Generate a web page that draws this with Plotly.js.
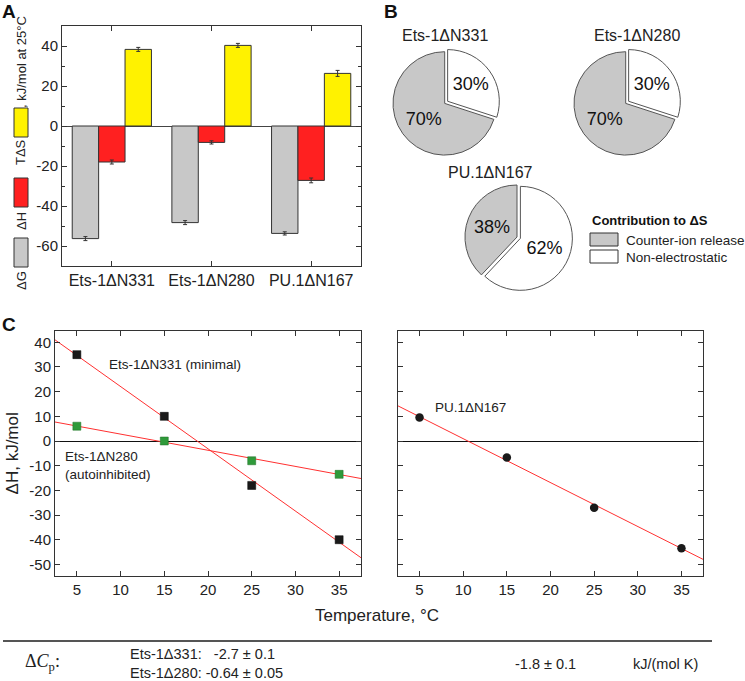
<!DOCTYPE html>
<html>
<head>
<meta charset="utf-8">
<script src="https://cdn.plot.ly/plotly-3.0.1.min.js"></script>
<style>html,body{margin:0;padding:0;background:#fff}#chart{width:745px;height:681px}</style>
</head>
<body>
<div id="chart"></div>
<script>
// ---------- Panel A data ----------
const proteins = ['Ets-1ΔN331', 'Ets-1ΔN280', 'PU.1ΔN167'];
const dG = [-56.3, -48.3, -53.7];
const dH = [-18.0, -8.2, -27.2];
const TdS = [38.3, 40.3, 26.3];
const dGErr = [1.0, 1.0, 0.8];
const dHErr = [1.0, 0.8, 1.2];
const TdSErr = [1.0, 1.0, 1.5];
const yTickValsA = [-60, -40, -20, 0, 20, 40];
const yTickTextA = ['-60', '-40', '-20', '0', '20', '40'];

// ---------- Panel B data ----------
const pieLabels = ['Non-electrostatic', 'Counter-ion release'];
const nonElectrostatic = [30, 30, 62];   // Ets-1ΔN331, Ets-1ΔN280, PU.1ΔN167
const counterIon = [70, 70, 38];

// ---------- Panel C data ----------
const temps = [5, 15, 25, 35];
const dH331 = [35.0, 10.0, -18.0, -40.0];
const dH331Err = [1.0, 1.0, 1.0, 1.5];
const dH280 = [6.0, 0.0, -8.0, -13.5];
const dH280Err = [1.0, 1.5, 1.0, 1.0];
const dH167 = [9.5, -6.7, -27.0, -43.5];
const dH167Err = [1.0, 1.0, 1.0, 1.0];
const fitT = [2.5, 37.5];
const fit331 = [41.0, -47.3];
const fit280 = [7.7, -15.2];
const fit167 = [14.3, -48.0];
const xTickValsC = [5, 10, 15, 20, 25, 30, 35];
const xTickTextC = ['5', '10', '15', '20', '25', '30', '35'];
const yTickValsC = [-50, -40, -30, -20, -10, 0, 10, 20, 30, 40];
const yTickTextC = ['-50', '-40', '-30', '-20', '-10', '0', '10', '20', '30', '40'];

// ---------- helpers ----------
const W = 745, H = 681;
const px = x => x / W;
const py = y => 1 - y / H;
const FONT = 'Liberation Sans, Arial, sans-serif';
const AX = '#333';

const barLine = {color: '#333', width: 1};
const errStyle = arr => ({type: 'data', array: arr, visible: true, color: '#333', thickness: 1, width: 2});

const traces = [
  {type: 'bar', name: 'ΔG', x: proteins, y: dG, marker: {color: '#c8c8c8', line: barLine}, error_y: errStyle(dGErr), xaxis: 'x', yaxis: 'y', showlegend: false, hoverinfo: 'skip'},
  {type: 'bar', name: 'ΔH', x: proteins, y: dH, marker: {color: '#ff2020', line: barLine}, error_y: errStyle(dHErr), xaxis: 'x', yaxis: 'y', showlegend: false, hoverinfo: 'skip'},
  {type: 'bar', name: 'TΔS', x: proteins, y: TdS, marker: {color: '#fff200', line: barLine}, error_y: errStyle(TdSErr), xaxis: 'x', yaxis: 'y', showlegend: false, hoverinfo: 'skip'}
];

function pieTrace(i, cx, cy, r, pull) {
  const half = r * (1 + pull);
  return {
    type: 'pie', values: [nonElectrostatic[i], counterIon[i]], labels: pieLabels, sort: false, direction: 'clockwise', rotation: 0,
    pull: [pull, 0], marker: {colors: ['#ffffff', '#c8c8c8'], line: {color: '#555', width: 1}},
    textinfo: 'percent', textposition: 'inside', insidetextorientation: 'horizontal',
    textfont: {family: FONT, size: 18, color: '#111'},
    domain: {x: [px(cx - half), px(cx + half)], y: [py(cy + half), py(cy - half)]},
    showlegend: false, hoverinfo: 'skip'
  };
}
traces.push(pieTrace(0, 444.7, 103.4, 51.7, 0.07));
traces.push(pieTrace(1, 625.7, 103.4, 51.7, 0.07));
traces.push(pieTrace(2, 517, 237, 52, 0.07));

const redLine = {color: '#ff3030', width: 1};
traces.push({type: 'scatter', mode: 'lines', x: fitT, y: fit331, line: redLine, xaxis: 'x2', yaxis: 'y2', showlegend: false, hoverinfo: 'skip'});
traces.push({type: 'scatter', mode: 'lines', x: fitT, y: fit280, line: redLine, xaxis: 'x2', yaxis: 'y2', showlegend: false, hoverinfo: 'skip'});
traces.push({type: 'scatter', mode: 'markers', x: temps, y: dH331, error_y: {type: 'data', array: dH331Err, color: '#222', thickness: 1, width: 0},
  marker: {symbol: 'square', size: 8, color: '#1a1a1a', line: {color: '#000', width: 0.5}}, xaxis: 'x2', yaxis: 'y2', showlegend: false, hoverinfo: 'skip'});
traces.push({type: 'scatter', mode: 'markers', x: temps, y: dH280, error_y: {type: 'data', array: dH280Err, color: '#2a8a2a', thickness: 1, width: 0},
  marker: {symbol: 'square', size: 8, color: '#2f9a3a', line: {color: '#1f6f25', width: 0.5}}, xaxis: 'x2', yaxis: 'y2', showlegend: false, hoverinfo: 'skip'});
traces.push({type: 'scatter', mode: 'lines', x: fitT, y: fit167, line: redLine, xaxis: 'x3', yaxis: 'y3', showlegend: false, hoverinfo: 'skip'});
traces.push({type: 'scatter', mode: 'markers', x: temps, y: dH167, error_y: {type: 'data', array: dH167Err, color: '#222', thickness: 1, width: 0},
  marker: {symbol: 'circle', size: 8.5, color: '#1a1a1a'}, xaxis: 'x3', yaxis: 'y3', showlegend: false, hoverinfo: 'skip'});

const baseAxis = {showline: true, linecolor: AX, linewidth: 1, mirror: 'allticks', ticks: 'inside', ticklen: 5, tickcolor: AX,
  showgrid: false, zeroline: false, tickfont: {family: FONT, size: 15, color: '#222'}, fixedrange: true};

const yC = {range: [-54.7, 44.7], tickmode: 'array', tickvals: yTickValsC, ticktext: yTickTextC, zeroline: true, zerolinecolor: '#111', zerolinewidth: 1};
const xC = {range: [2.5, 37.5], tickmode: 'array', tickvals: xTickValsC, ticktext: xTickTextC};

const ann = (text, x, y, opts) => Object.assign({text: text, x: px(x), y: py(y), xref: 'paper', yref: 'paper', showarrow: false,
  font: {family: FONT, size: 13, color: '#222'}, xanchor: 'center', yanchor: 'middle'}, opts || {});

const annotations = [
  ann('<b>A</b>', 9, 11, {font: {family: FONT, size: 19, color: '#111'}}),
  ann('<b>B</b>', 391, 11, {font: {family: FONT, size: 19, color: '#111'}}),
  ann('<b>C</b>', 9, 325, {font: {family: FONT, size: 19, color: '#111'}}),
  // panel A vertical legend
  ann(', kJ/mol at 25°C', 21, 62, {textangle: -90}),
  ann('TΔS', 21, 152, {textangle: -90}),
  ann('ΔH', 21, 221, {textangle: -90}),
  ann('ΔG', 21, 281, {textangle: -90}),
  // pie titles
  ann('Ets-1ΔN331', 445, 36, {font: {family: FONT, size: 16, color: '#222'}}),
  ann('Ets-1ΔN280', 637, 36, {font: {family: FONT, size: 16, color: '#222'}}),
  ann('PU.1ΔN167', 490, 173, {font: {family: FONT, size: 16, color: '#222'}}),
  // pie legend
  ann('<b>Contribution to ΔS</b>', 590, 220, {xanchor: 'left', font: {family: FONT, size: 13, color: '#111'}}),
  ann('Counter-ion release', 624, 240, {xanchor: 'left', font: {family: FONT, size: 13.5, color: '#222'}}),
  ann('Non-electrostatic', 624, 257, {xanchor: 'left', font: {family: FONT, size: 13.5, color: '#222'}}),
  // panel C labels
  ann('Ets-1ΔN331 (minimal)', 175, 365, {font: {family: FONT, size: 13.5, color: '#222'}}),
  ann('Ets-1ΔN280<br>(autoinhibited)', 63, 465, {xanchor: 'left', align: 'left', font: {family: FONT, size: 13.5, color: '#222'}}),
  ann('PU.1ΔN167', 433, 407, {xanchor: 'left', font: {family: FONT, size: 13.5, color: '#222'}}),
  ann('Temperature, °C', 377, 615, {font: {family: FONT, size: 17, color: '#222'}}),
  // bottom table
  ann('Δ<i>C</i><sub>p</sub>:', 42, 662, {font: {family: 'Liberation Serif, Times New Roman, serif', size: 18, color: '#222'}}),
  ann('Ets-1Δ331:\u00a0\u00a0\u00a0-2.7 ± 0.1<br>Ets-1Δ280: -0.64 ± 0.05', 128, 663, {xanchor: 'left', align: 'left', font: {family: FONT, size: 14.5, color: '#222'}}),
  ann('-1.8 ± 0.1', 545, 664, {font: {family: FONT, size: 14.5, color: '#222'}}),
  ann('kJ/(mol K)', 665, 664, {font: {family: FONT, size: 14.5, color: '#222'}})
];

const rect = (x0, y0, x1, y1, fill) => ({type: 'rect', xref: 'paper', yref: 'paper', x0: px(x0), x1: px(x1), y0: py(y1), y1: py(y0),
  fillcolor: fill, line: {color: '#333', width: 1}});
const shapes = [
  rect(14, 108, 28, 137, '#fff200'),
  rect(14, 178, 28, 207, '#ff2020'),
  rect(14, 238, 28, 267, '#c8c8c8'),
  rect(590, 233, 618, 246, '#c8c8c8'),
  rect(590, 250, 618, 263, '#ffffff'),
  {type: 'line', xref: 'paper', yref: 'paper', x0: px(3), x1: px(712), y0: py(641), y1: py(641), line: {color: '#555', width: 2}}
];

const layout = {
  width: W, height: H, margin: {l: 0, r: 0, t: 0, b: 0}, paper_bgcolor: '#fff', plot_bgcolor: 'rgba(0,0,0,0)',
  font: {family: FONT, color: '#222'}, showlegend: false,
  barmode: 'group', bargap: 0.205, bargroupgap: 0,
  xaxis: Object.assign({}, baseAxis, {domain: [px(62), px(361)], anchor: 'y', type: 'category', range: [-0.5, 2.5], tickfont: {family: FONT, size: 16, color: '#222'}}),
  yaxis: Object.assign({}, baseAxis, {domain: [py(266), py(26)], anchor: 'x', range: [-70, 50], tickmode: 'array', tickvals: yTickValsA, ticktext: yTickTextA,
    zeroline: true, zerolinecolor: '#444', zerolinewidth: 1, minor: {dtick: 10, tick0: 0, ticks: 'inside', ticklen: 3, tickcolor: AX}}),
  xaxis2: Object.assign({}, baseAxis, xC, {domain: [px(55), px(361)], anchor: 'y2'}),
  yaxis2: Object.assign({}, baseAxis, yC, {domain: [py(576), py(330.7)], anchor: 'x2',
    title: {text: 'ΔH, kJ/mol', font: {family: FONT, size: 17, color: '#222'}, standoff: 6}}),
  xaxis3: Object.assign({}, baseAxis, xC, {domain: [px(397.7), px(703.3)], anchor: 'y3'}),
  yaxis3: Object.assign({}, baseAxis, yC, {domain: [py(576), py(330.7)], anchor: 'x3', showticklabels: false}),
  annotations: annotations,
  shapes: shapes
};

Plotly.newPlot('chart', traces, layout, {staticPlot: true, displayModeBar: false});
</script>
</body>
</html>
